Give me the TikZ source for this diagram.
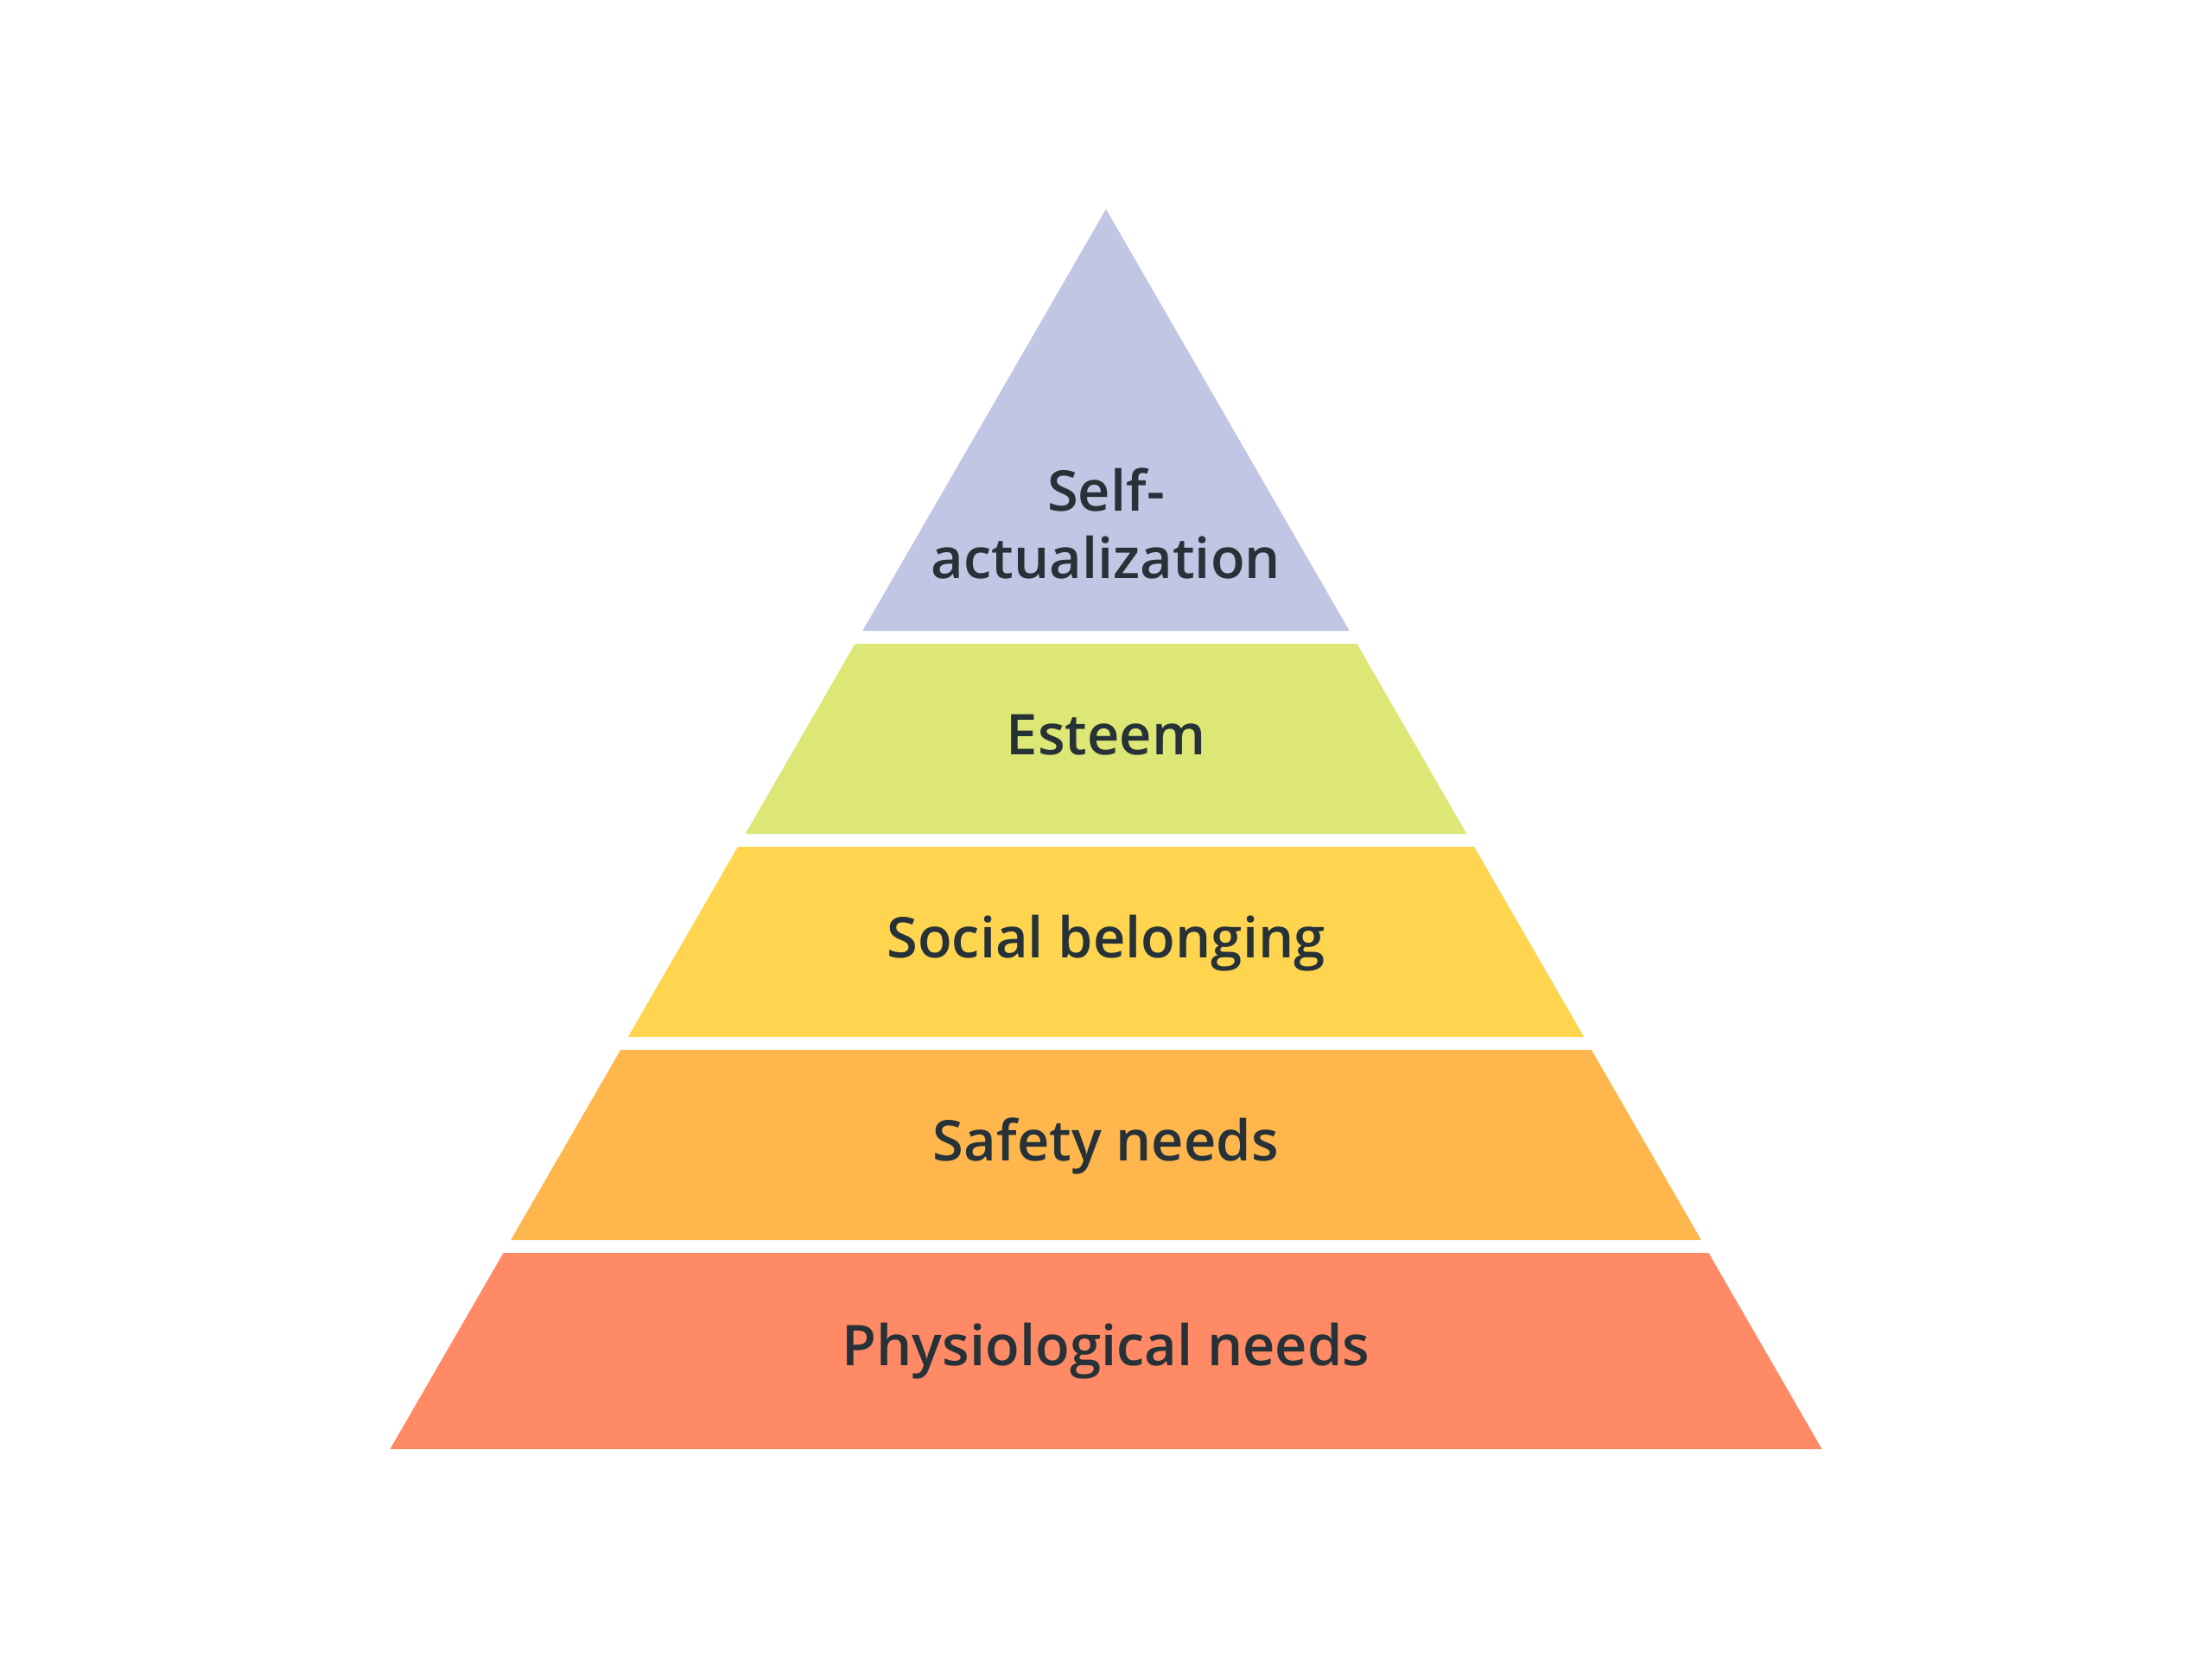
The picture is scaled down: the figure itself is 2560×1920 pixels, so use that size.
\documentclass[tikz,border=0pt]{standalone}
\usepackage{fontspec}
\setmainfont{Open Sans}
\IfFontExistsTF{Open Sans Semibold}{%
  \newfontfamily\lblfont{Open Sans Semibold}\def\lblsize{65}}{%
  \IfFontExistsTF{OpenSans-SemiBold}{%
    \newfontfamily\lblfont{OpenSans-SemiBold}\def\lblsize{65}}{%
    \IfFontExistsTF{Open Sans SemiBold}{%
      \newfontfamily\lblfont{Open Sans SemiBold}\def\lblsize{65}}{%
      \newfontfamily\lblfont{Open Sans Bold}\def\lblsize{63.3}}}}
\definecolor{cTop}{HTML}{C1C6E4}
\definecolor{cEst}{HTML}{DCE775}
\definecolor{cSoc}{HTML}{FFD54F}
\definecolor{cSaf}{HTML}{FFB74D}
\definecolor{cPhy}{HTML}{FF8A65}
\definecolor{cTxt}{HTML}{263238}
\tikzset{
  lbl/.style={text=cTxt, font=\lblfont\fontsize{\lblsize}{78}\selectfont, inner sep=0pt, anchor=base},
}
\begin{document}
\begin{tikzpicture}[x=1pt,y=-1pt]
\useasboundingbox (0,0) rectangle (2560,1920);
\fill[white] (0,0) rectangle (2560,1920);
% layers
\fill[cTop] (1280,242) -- (1561.7,730) -- (998.3,730) -- cycle;
\fill[cEst] (989.6,745) -- (1570.4,745) -- (1697.4,965) -- (862.6,965) -- cycle;
\fill[cSoc] (853.9,980) -- (1706.1,980) -- (1833.1,1200) -- (726.9,1200) -- cycle;
\fill[cSaf] (718.2,1215) -- (1841.8,1215) -- (1968.8,1435) -- (591.2,1435) -- cycle;
\fill[cPhy] (582.6,1450) -- (1977.4,1450) -- (2108.5,1677) -- (451.5,1677) -- cycle;
% labels
\node[lbl] (self1) at (1280,591) {Self-};
\node[lbl] (self2) at (1280,669) {actualization};
\node[lbl] (est) at (1280,873) {Esteem};
\node[lbl] (soc) at (1280,1108) {Social belonging};
\node[lbl] (saf) at (1280,1343) {Safety needs};
\node[lbl] (phy) at (1280,1580) {Physiological needs};
\end{tikzpicture}
\end{document}
